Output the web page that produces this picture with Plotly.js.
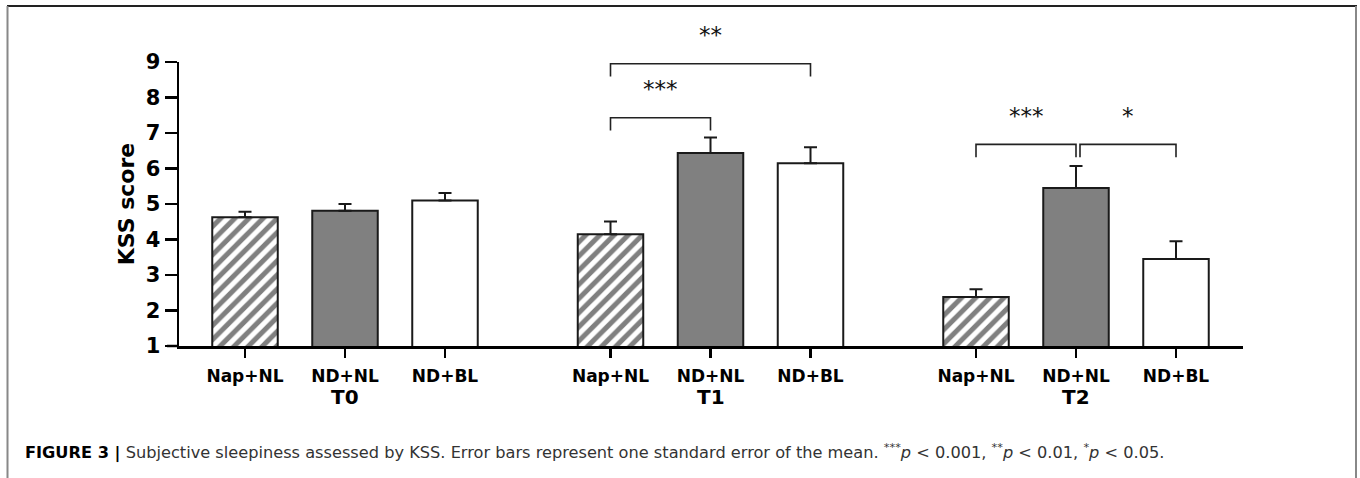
<!DOCTYPE html>
<html>
<head>
<meta charset="utf-8">
<script src="https://cdn.plot.ly/plotly-3.0.1.min.js"></script>
<style>
  html, body { margin: 0; padding: 0; background: #fff; }
  #chart { width: 1360px; height: 478px; }
</style>
</head>
<body>
<div id="chart"></div>
<script>
// ---------- data ----------
const groups = ['T0', 'T1', 'T2'];
const conditions = ['Nap+NL', 'ND+NL', 'ND+BL'];

const napNL    = [4.63, 4.15, 2.38];
const napNL_se = [0.15, 0.36, 0.22];
const ndNL     = [4.81, 6.44, 5.45];
const ndNL_se  = [0.19, 0.43, 0.62];
const ndBL     = [5.10, 6.15, 3.45];
const ndBL_se  = [0.21, 0.45, 0.50];

// significance comparisons
const sigGroup = [1, 1, 2, 2];
const sigFrom  = [0, 0, 0, 1];
const sigTo    = [1, 2, 1, 2];
const sigLabel = ['***', '**', '***', '*'];
const sigLevel = [7.43, 8.95, 6.68, 6.68];
const sigText  = [8.25, 9.75, 7.49, 7.49];

const yTicks = [1, 2, 3, 4, 5, 6, 7, 8, 9];

// ---------- layout helpers ----------
const W = 1360, H = 478;
const PL = 179, PR = 1243, PT = 62, PB = 346;
const GROUP_GAP = 0.655;
const X_MIN = -0.66, X_MAX = 9.98;
const Y_MIN = 1, Y_MAX = 9;

function barX(g, b) { return g * (conditions.length + GROUP_GAP) + b; }
function pxX(px) { return (px - PL) / (PR - PL); }
function pxY(py) { return (PB - py) / (PB - PT); }
function dataYtoPaper(v) { return (v - Y_MIN) / (Y_MAX - Y_MIN); }
function dataXtoPaper(v) { return (v - X_MIN) / (X_MAX - X_MIN); }

const FONT = 'DejaVu Sans, Arial, sans-serif';
const seriesVals = [napNL, ndNL, ndBL];
const seriesSE = [napNL_se, ndNL_se, ndBL_se];

const styles = [
  { color: '#ffffff', pattern: { shape: '/', fgcolor: '#808080', bgcolor: '#ffffff', size: 10, solidity: 0.5, fillmode: 'replace' } },
  { color: '#808080' },
  { color: '#ffffff' }
];

const traces = conditions.map((c, b) => {
  const marker = { color: styles[b].color, line: { color: '#1a1a1a', width: 2 } };
  if (styles[b].pattern) marker.pattern = styles[b].pattern;
  return {
    type: 'bar',
    name: c,
    x: groups.map((g, gi) => barX(gi, b)),
    y: seriesVals[b],
    width: 0.655,
    marker: marker,
    error_y: {
      type: 'data', symmetric: false,
      array: seriesSE[b],
      arrayminus: seriesSE[b].map(() => 0),
      color: '#1a1a1a', thickness: 2, width: 6.5
    },
    hoverinfo: 'x+y'
  };
});

const tickvals = [], ticktext = [];
groups.forEach((g, gi) => conditions.forEach((c, b) => { tickvals.push(barX(gi, b)); ticktext.push(c); }));

const shapes = [];
const annotations = [];

// x-axis overhang to the left of the y axis
shapes.push({ type: 'line', xref: 'paper', yref: 'paper', x0: pxX(167), x1: 0, y0: 0, y1: 0,
  line: { color: '#000', width: 2.5 } });

// frame around figure
shapes.push({ type: 'line', xref: 'paper', yref: 'paper', x0: pxX(7), x1: pxX(1357), y0: pxY(6), y1: pxY(6),
  line: { color: '#222', width: 2 } });
shapes.push({ type: 'line', xref: 'paper', yref: 'paper', x0: pxX(7.5), x1: pxX(7.5), y0: pxY(6), y1: pxY(480),
  line: { color: '#888', width: 2 } });
shapes.push({ type: 'line', xref: 'paper', yref: 'paper', x0: pxX(1356), x1: pxX(1356), y0: pxY(6), y1: pxY(480),
  line: { color: '#888', width: 2 } });

// significance brackets
const LEG = 0.36;
sigGroup.forEach((g, i) => {
  let xa = barX(g, sigFrom[i]);
  let xb = barX(g, sigTo[i]);
  if (i === 3) xa += 0.04;
  const yt = sigLevel[i];
  const path = `M ${dataXtoPaper(xa)} ${dataYtoPaper(yt - LEG)} L ${dataXtoPaper(xa)} ${dataYtoPaper(yt)} L ${dataXtoPaper(xb)} ${dataYtoPaper(yt)} L ${dataXtoPaper(xb)} ${dataYtoPaper(yt - LEG)}`;
  shapes.push({ type: 'path', xref: 'paper', yref: 'paper', path: path, line: { color: '#222', width: 1.6 } });
  annotations.push({
    xref: 'paper', yref: 'paper',
    x: dataXtoPaper((xa + xb) / 2), y: dataYtoPaper(sigText[i]),
    text: sigLabel[i], showarrow: false, xanchor: 'center', yanchor: 'middle',
    font: { family: FONT, size: 23, color: '#111' }
  });
});

// group labels
groups.forEach((g, gi) => {
  annotations.push({
    xref: 'x', yref: 'paper', x: barX(gi, 1), y: pxY(397),
    text: '<b>' + g + '</b>', showarrow: false, xanchor: 'center', yanchor: 'middle',
    font: { family: FONT, size: 20, color: '#000' }
  });
});

// caption
annotations.push({
  xref: 'paper', yref: 'paper', x: pxX(23), y: pxY(451),
  xanchor: 'left', yanchor: 'middle', showarrow: false, align: 'left',
  text: '<span style="color:#000"><b>FIGURE 3 |</b></span> Subjective sleepiness assessed by KSS. Error bars represent one standard error of the mean. <sup>***</sup><i>p</i> &lt; 0.001, <sup>**</sup><i>p</i> &lt; 0.01, <sup>*</sup><i>p</i> &lt; 0.05.',
  font: { family: 'DejaVu Sans, Arial, sans-serif', size: 16.2, color: '#333' }
});

const layout = {
  width: W, height: H,
  margin: { l: PL, r: W - PR, t: PT, b: H - PB, pad: 0 },
  paper_bgcolor: '#fff', plot_bgcolor: '#fff',
  showlegend: false,
  barmode: 'overlay',
  xaxis: {
    range: [X_MIN, X_MAX], showgrid: false, zeroline: false,
    showline: true, linecolor: '#000', linewidth: 2.5,
    ticks: 'outside', ticklen: 9, tickwidth: 2.5, tickcolor: '#000',
    tickvals: tickvals, ticktext: ticktext, ticklabelstandoff: 4,
    tickfont: { family: FONT, size: 17, color: '#000', weight: 'bold' }
  },
  yaxis: {
    range: [Y_MIN, Y_MAX], showgrid: false, zeroline: false,
    showline: true, linecolor: '#000', linewidth: 2.5,
    ticks: 'outside', ticklen: 12, tickwidth: 2.5, tickcolor: '#000',
    tickvals: yTicks, ticktext: yTicks.map(String),
    tickfont: { family: FONT, size: 21, color: '#000', weight: 'bold' },
    title: { text: '<b>KSS score</b>', standoff: 5, font: { family: FONT, size: 22, color: '#000' } }
  },
  shapes: shapes,
  annotations: annotations
};

Plotly.newPlot('chart', traces, layout, { displayModeBar: false, staticPlot: true });
</script>
</body>
</html>
